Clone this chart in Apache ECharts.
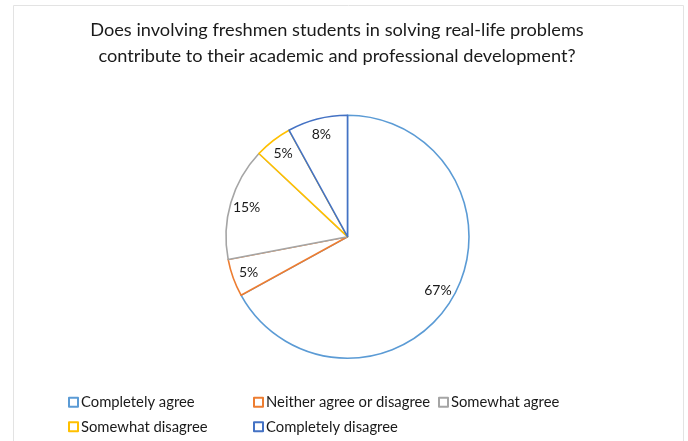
<!DOCTYPE html>
<html>
<head>
<meta charset="utf-8">
<script src="https://cdn.jsdelivr.net/npm/echarts@6/dist/echarts.min.js"></script>
<style>
  html, body { margin: 0; padding: 0; background: #fff; }
  #chart { width: 688px; height: 441px; }
</style>
</head>
<body>
<div id="chart"></div>
<script>
// Survey answers and their shares (percent)
const categories = [
  'Completely agree',
  'Neither agree or disagree',
  'Somewhat agree',
  'Somewhat disagree',
  'Completely disagree'
];
const shares = [67, 5, 15, 5, 8];
const sliceColors = ['#5B9BD5', '#ED7D31', '#A5A5A5', '#FFC000', '#4472C4'];

const titleText = 'Does involving freshmen students in solving real-life problems\ncontribute to their academic and professional development?';

const FONT = 'Lato, "Open Sans", sans-serif';
const CX = 347.5, CY = 236.7, R = 121.5;

const sliceData = categories.map((name, i) => ({
  name,
  value: shares[i],
  itemStyle: { color: '#ffffff', borderColor: sliceColors[i], borderWidth: 1.6 }
}));

const chart = echarts.init(document.getElementById('chart'), null, { renderer: 'canvas' });

chart.setOption({
  backgroundColor: '#ffffff',
  animation: false,
  graphic: [{
    type: 'rect',
    shape: { x: 13.5, y: 5.5, width: 670, height: 450 },
    style: { fill: 'none', stroke: '#e3e3e3', lineWidth: 1 },
    silent: true,
    z: -1
  }],
  title: {
    text: titleText,
    left: 332,
    textAlign: 'center',
    top: 12,
    textStyle: {
      fontFamily: FONT,
      fontSize: 18.2,
      fontWeight: 'normal',
      color: '#1a1a1a',
      lineHeight: 26
    }
  },
  legend: {
    data: categories,
    left: 68,
    top: 390,
    padding: 0,
    width: 570,
    orient: 'horizontal',
    icon: 'rect',
    itemWidth: 9,
    itemHeight: 9,
    itemGap: 0,
    selectedMode: false,
    textStyle: {
      fontFamily: FONT,
      fontSize: 14.8,
      color: '#1a1a1a',
      width: 172,
      lineHeight: 24.5,
      padding: [0, 0, 0, -2]
    }
  },
  series: [
    {
      // the visible slices: white fill with coloured outlines
      type: 'pie',
      center: [CX, CY],
      radius: [0, R],
      startAngle: 90,
      clockwise: true,
      avoidLabelOverlap: false,
      label: { show: false },
      labelLine: { show: false },
      emphasis: { disabled: true },
      data: sliceData
    },
    {
      // transparent ring that carries the percentage labels near the rim
      type: 'pie',
      center: [CX, CY],
      radius: [R * 0.68, R],
      startAngle: 90,
      clockwise: true,
      silent: true,
      avoidLabelOverlap: false,
      itemStyle: { color: 'rgba(0,0,0,0)', borderWidth: 0 },
      label: {
        show: true,
        position: 'inside',
        formatter: p => p.value + '%',
        fontFamily: FONT,
        fontSize: 14,
        color: '#1a1a1a'
      },
      labelLine: { show: false },
      emphasis: { disabled: true },
      data: categories.map((name, i) => ({ name, value: shares[i] }))
    }
  ]
});
</script>
</body>
</html>
